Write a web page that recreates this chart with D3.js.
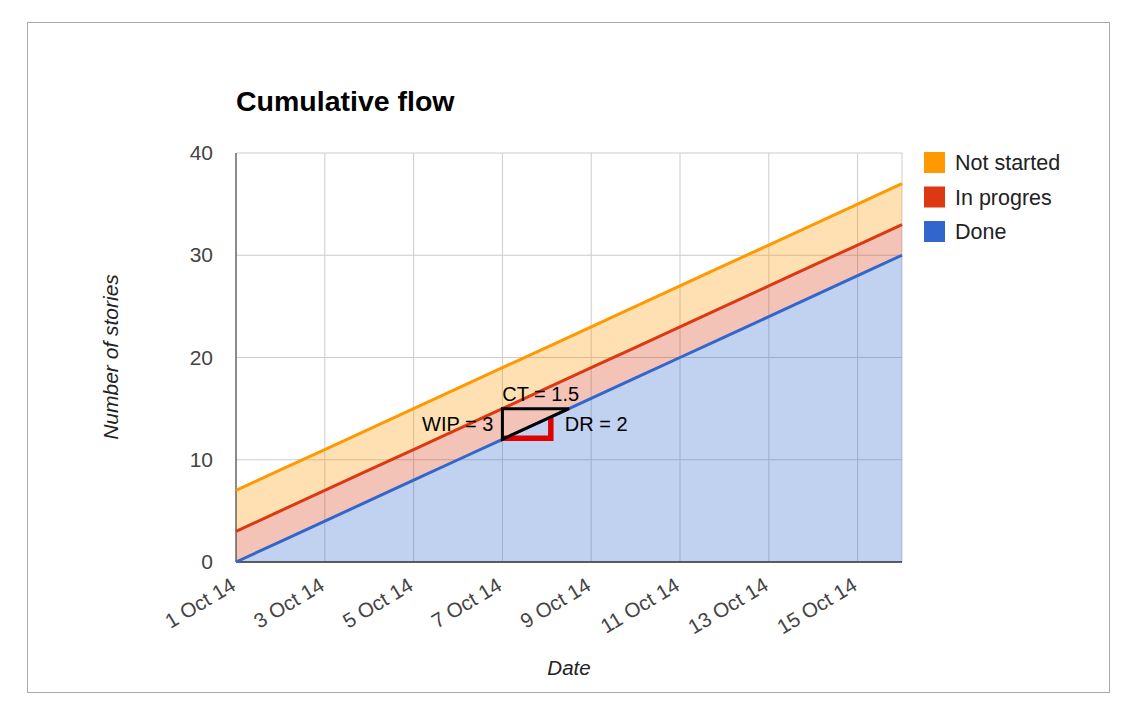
<!DOCTYPE html>
<html>
<head>
<meta charset="utf-8">
<script src="https://cdn.jsdelivr.net/npm/d3@7"></script>
<style>
  body { margin: 0; background: #fff; font-family: "Liberation Sans", Arial, sans-serif; }
</style>
</head>
<body>
<script>
// Data
const dates = ["2014-10-01","2014-10-02","2014-10-03","2014-10-04","2014-10-05","2014-10-06","2014-10-07","2014-10-08",
  "2014-10-09","2014-10-10","2014-10-11","2014-10-12","2014-10-13","2014-10-14","2014-10-15","2014-10-16"];
const done = [0, 2, 4, 6, 8, 10, 12, 14, 16, 18, 20, 22, 24, 26, 28, 30];
const inProgress = [3, 3, 3, 3, 3, 3, 3, 3, 3, 3, 3, 3, 3, 3, 3, 3];
const notStarted = [4, 4, 4, 4, 4, 4, 4, 4, 4, 4, 4, 4, 4, 4, 4, 4];
const seriesNames = ["Done", "In progres", "Not started"];
const seriesColors = ["#3366cc", "#dc3912", "#ff9900"];
const yTicks = [0, 10, 20, 30, 40];

// annotation (cycle time / WIP / delivery rate)
const annoStart = "2014-10-07", annoBase = 12, wip = 3, ct = 1.5, dr = 2;

const parse = d3.timeParse("%Y-%m-%d");
const rows = dates.map((d, i) => ({
  date: parse(d), "Done": done[i], "In progres": inProgress[i], "Not started": notStarted[i]
}));

const width = 1125, height = 726;
const margin = { left: 236, right: 223, top: 153, bottom: 164 };

const svg = d3.select("body").append("svg")
  .attr("width", width)
  .attr("height", height);

// outer frame
svg.append("rect")
  .attr("x", 27.5).attr("y", 22.5)
  .attr("width", 1082).attr("height", 670)
  .attr("fill", "none").attr("stroke", "#a9a9a9");

const x = d3.scaleTime()
  .domain(d3.extent(rows, d => d.date))
  .range([margin.left, width - margin.right]);

const y = d3.scaleLinear()
  .domain([0, 40])
  .range([height - margin.bottom, margin.top]);

// gridlines
const xTicks = rows.filter((d, i) => i % 2 === 0).map(d => d.date);
svg.append("g").selectAll("line")
  .data(xTicks)
  .join("line")
  .attr("x1", d => x(d)).attr("x2", d => x(d))
  .attr("y1", y(0)).attr("y2", y(40))
  .attr("stroke", "#cccccc");
svg.append("line")
  .attr("x1", x.range()[1]).attr("x2", x.range()[1])
  .attr("y1", y(0)).attr("y2", y(40))
  .attr("stroke", "#cccccc");
svg.append("g").selectAll("line")
  .data(yTicks)
  .join("line")
  .attr("x1", x.range()[0]).attr("x2", x.range()[1])
  .attr("y1", d => y(d)).attr("y2", d => y(d))
  .attr("stroke", "#cccccc");

// stacked areas
const stack = d3.stack().keys(seriesNames);
const layers = stack(rows);

const area = d3.area()
  .x(d => x(d.data.date))
  .y0(d => y(d[0]))
  .y1(d => y(d[1]));

const line = d3.line()
  .x(d => x(d.data.date))
  .y(d => y(d[1]));

svg.append("g").selectAll("path")
  .data(layers)
  .join("path")
  .attr("d", area)
  .attr("fill", (d, i) => seriesColors[i])
  .attr("fill-opacity", 0.3);

// axes baselines
svg.append("line")
  .attr("x1", x.range()[0]).attr("x2", x.range()[1])
  .attr("y1", y(0)).attr("y2", y(0))
  .attr("stroke", "#333").attr("stroke-width", 1.5);
svg.append("line")
  .attr("x1", x.range()[0]).attr("x2", x.range()[0])
  .attr("y1", y(0)).attr("y2", y(40))
  .attr("stroke", "#333").attr("stroke-width", 1);

svg.append("g").selectAll("path")
  .data(layers)
  .join("path")
  .attr("d", line)
  .attr("fill", "none")
  .attr("stroke", (d, i) => seriesColors[i])
  .attr("stroke-width", 3);

// annotation
const ax0 = x(parse(annoStart));
const ax1 = x(d3.timeHour.offset(parse(annoStart), ct * 24));
const axDay = x(d3.timeDay.offset(parse(annoStart), 1));
svg.append("path")
  .attr("d", `M${axDay + 4},${y(annoBase + dr) - 1}L${axDay + 4},${y(annoBase) - 1}L${ax0},${y(annoBase) - 1}`)
  .attr("fill", "none").attr("stroke", "#e00000").attr("stroke-width", 5.5);
svg.append("path")
  .attr("d", `M${ax0},${y(annoBase)}L${ax0},${y(annoBase + wip)}L${ax1},${y(annoBase + wip)}Z`)
  .attr("fill", "none").attr("stroke", "#000").attr("stroke-width", 3);

const annoFont = "20px";
svg.append("text")
  .attr("x", (ax0 + ax1) / 2 + 5).attr("y", y(annoBase + wip) - 8)
  .attr("text-anchor", "middle").style("font-size", annoFont)
  .text("CT = " + ct);
svg.append("text")
  .attr("x", ax0 - 9).attr("y", y(annoBase + wip / 2) + 7)
  .attr("text-anchor", "end").style("font-size", annoFont)
  .text("WIP = " + wip);
svg.append("text")
  .attr("x", axDay + 18).attr("y", y(annoBase + wip / 2) + 7)
  .attr("text-anchor", "start").style("font-size", annoFont)
  .text("DR = " + dr);

// y tick labels
svg.append("g").selectAll("text")
  .data(yTicks)
  .join("text")
  .attr("x", 213).attr("y", d => y(d) + 7)
  .attr("text-anchor", "end")
  .style("font-size", "21px").attr("fill", "#444")
  .text(d => d);

// x tick labels
const fmt = d3.timeFormat("%-d %b %y");
svg.append("g").selectAll("text")
  .data(xTicks)
  .join("text")
  .attr("transform", d => `translate(${x(d) + 1},${y(0) + 27}) rotate(-31)`)
  .attr("text-anchor", "end")
  .style("font-size", "20.5px").attr("fill", "#444")
  .text(d => fmt(d));

// title
svg.append("text")
  .attr("x", 236).attr("y", 111)
  .style("font-size", "28.5px").style("font-weight", "bold")
  .text("Cumulative flow");

// axis titles
svg.append("text")
  .attr("x", 569).attr("y", 675)
  .attr("text-anchor", "middle")
  .style("font-size", "20.5px").style("font-style", "italic").attr("fill", "#222")
  .text("Date");
svg.append("text")
  .attr("transform", "translate(118,357) rotate(-90)")
  .attr("text-anchor", "middle")
  .style("font-size", "21px").style("font-style", "italic").attr("fill", "#222")
  .text("Number of stories");

// legend
const legendOrder = [2, 1, 0];
const legend = svg.append("g").selectAll("g")
  .data(legendOrder)
  .join("g")
  .attr("transform", (d, i) => `translate(924,${152 + i * 34.5})`);
legend.append("rect")
  .attr("width", 21).attr("height", 21)
  .attr("fill", d => seriesColors[d]);
legend.append("text")
  .attr("x", 31).attr("y", 18)
  .style("font-size", "21.5px").attr("fill", "#222")
  .text(d => seriesNames[d]);
</script>
</body>
</html>
